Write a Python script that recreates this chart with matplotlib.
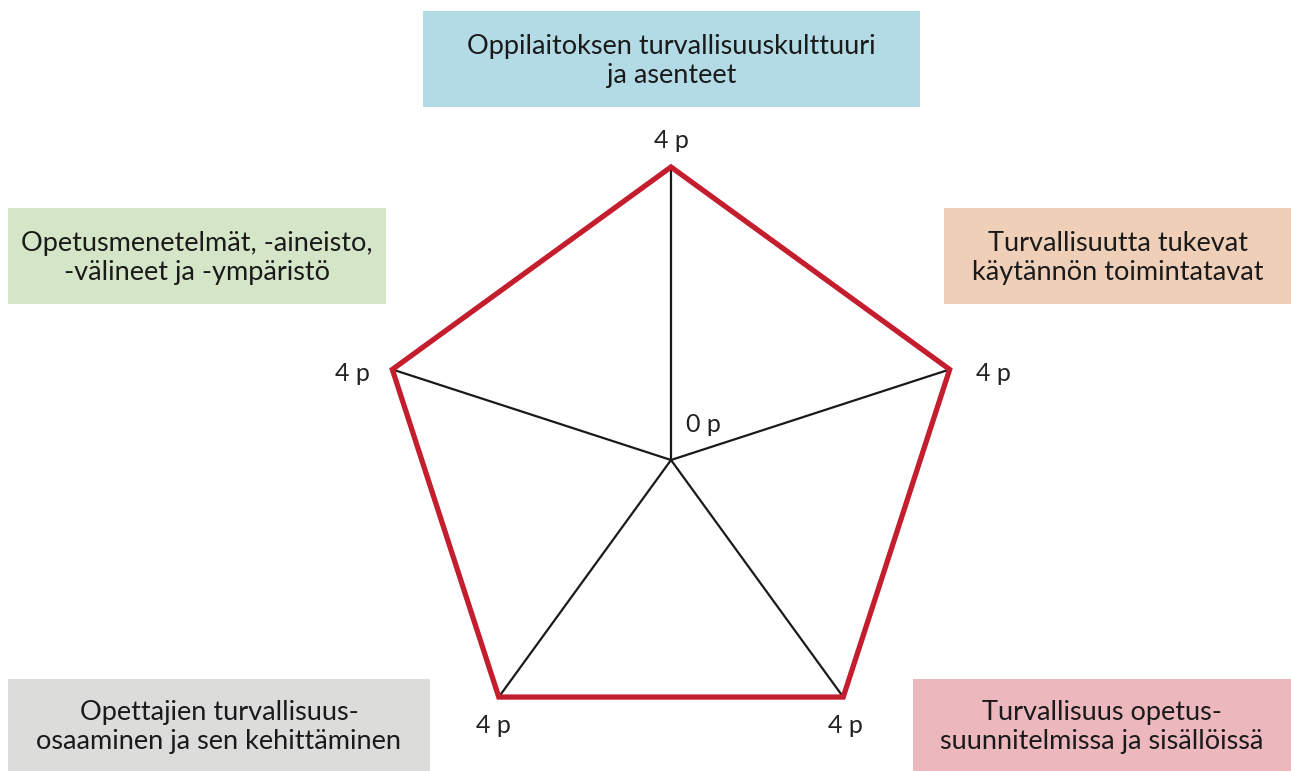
import matplotlib.pyplot as plt
import matplotlib.patches as mpatches
import numpy as np

plt.rcParams['font.family'] = ['Lato', 'DejaVu Sans']

categories = [
    'Oppilaitoksen turvallisuuskulttuuri\nja asenteet',
    'Turvallisuutta tukevat\nkäytännön toimintatavat',
    'Turvallisuus opetus-\nsuunnitelmissa ja sisällöissä',
    'Opettajien turvallisuus-\nosaaminen ja sen kehittäminen',
    'Opetusmenetelmät, -aineisto,\n-välineet ja -ympäristö',
]
scores = [4, 4, 4, 4, 4]
max_score = 4
score_labels = ['4 p', '4 p', '4 p', '4 p', '4 p']
center_label = '0 p'
box_colors = ['#b3dbe6', '#f0cfb9', '#ecb8bd', '#dcdcdb', '#d5e6c8']

# box rectangles in pixel coords: x0, y0, x1, y1
boxes = [
    (423, 11, 920, 107),
    (944, 208, 1291, 304),
    (913, 679, 1291, 771),
    (8, 679, 430, 771),
    (8, 208, 386, 304),
]

W, H = 1291, 771
fig = plt.figure(figsize=(W / 100, H / 100), dpi=100)
ax = fig.add_axes([0, 0, 1, 1])
ax.set_xlim(0, W)
ax.set_ylim(H, 0)
ax.axis('off')

cx, cy = 671, 460
radius = 293
angles = np.deg2rad(90 - 72 * np.arange(len(scores)))
r = np.array(scores) / max_score * radius
xs = cx + r * np.cos(angles)
ys = cy - r * np.sin(angles)

for x, y in zip(xs, ys):
    ax.plot([cx, x], [cy, y], color='#1a1a1a', lw=1.6, zorder=2)
ax.add_patch(mpatches.Polygon(np.column_stack([xs, ys]), closed=True, fill=False,
                              edgecolor='#c41e2e', lw=3.8, joinstyle='miter', zorder=3))

offsets = [(0, -27, 'center'), (44, 4, 'center'), (2, 28, 'center'), (-5, 28, 'center'), (-40, 4, 'center')]
for (x, y), (dx, dy, ha), lab in zip(zip(xs, ys), offsets, score_labels):
    ax.text(x + dx, y + dy, lab, ha=ha, va='center', fontsize=18, color='#222222')
ax.text(cx + 32, cy - 36, center_label, ha='center', va='center', fontsize=18, color='#222222')

for (x0, y0, x1, y1), col, txt in zip(boxes, box_colors, categories):
    ax.add_patch(mpatches.Rectangle((x0, y0), x1 - x0, y1 - y0, facecolor=col, edgecolor='none', zorder=1))
    ax.text((x0 + x1) / 2, (y0 + y1) / 2 + 2, txt, ha='center', va='center', fontsize=19.5,
            color='#1a1a1a', linespacing=1.2, zorder=4)

fig.savefig('out.png', dpi=100)
